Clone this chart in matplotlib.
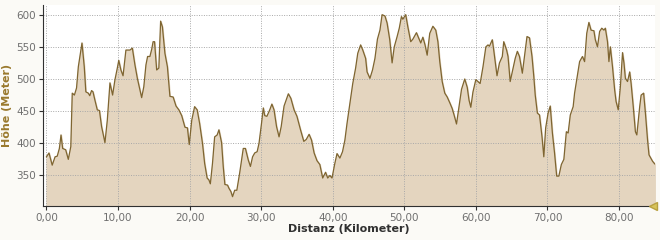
import matplotlib
matplotlib.use("Agg")
import matplotlib.pyplot as plt

# elevation profile
distanz_km = [
    0.0, 0.35, 0.8, 1.2, 1.5, 1.8, 2.03, 2.26, 2.68, 3.05, 3.4, 3.6, 3.9, 4.2, 4.45,
    4.96, 5.28, 5.5, 5.84, 6.05, 6.3, 6.5, 6.77, 7.1, 7.4, 7.7, 8.17, 8.5, 8.87, 9.24,
    9.57, 9.9, 10.1, 10.4, 10.7, 11.1, 11.66, 12.0, 12.36, 12.7, 12.96, 13.3, 13.6,
    13.9, 14.13, 14.45, 14.7, 14.9, 15.1, 15.4, 15.7, 15.95, 16.2, 16.55, 16.9,
    17.25, 17.7, 18.1, 18.5, 18.9, 19.35, 19.7, 19.95, 20.3, 20.7, 21.06, 21.4, 21.8,
    22.1, 22.45, 22.7, 22.9, 23.2, 23.5, 23.85, 24.1, 24.47, 24.7, 24.93, 25.3, 25.5,
    25.77, 26.0, 26.3, 26.6, 27.0, 27.5, 27.8, 28.2, 28.5, 28.8, 29.1, 29.44, 29.7,
    30.05, 30.3, 30.5, 30.8, 31.2, 31.5, 31.8, 32.15, 32.5, 32.8, 33.2, 33.8, 34.15,
    34.6, 35.0, 35.5, 35.96, 36.3, 36.7, 37.04, 37.4, 37.8, 38.2, 38.6, 39.0, 39.3,
    39.6, 39.9, 40.3, 40.6, 41.0, 41.37, 41.7, 42.0, 42.4, 42.8, 43.2, 43.5, 43.9,
    44.2, 44.6, 44.8, 45.2, 45.56, 45.9, 46.25, 46.6, 46.9, 47.3, 47.6, 47.97, 48.3,
    48.6, 49.0, 49.3, 49.6, 49.8, 50.2, 50.5, 50.9, 51.2, 51.7, 52.0, 52.3, 52.6,
    52.9, 53.2, 53.56, 54.0, 54.4, 54.7, 54.96, 55.3, 55.66, 56.0, 56.4, 56.7, 56.96,
    57.3, 57.65, 58.0, 58.45, 58.8, 59.05, 59.3, 59.6, 60.0, 60.3, 60.6, 61.0, 61.4,
    61.7, 61.9, 62.3, 62.5, 62.96, 63.3, 63.7, 63.9, 64.3, 64.5, 64.8, 65.2, 65.5,
    65.8, 66.1, 66.5, 66.8, 67.15, 67.5, 67.85, 68.1, 68.3, 68.6, 68.9, 69.25, 69.5,
    69.76, 70.1, 70.4, 70.7, 71.0, 71.3, 71.6, 71.95, 72.3, 72.65, 72.9, 73.2, 73.6,
    73.8, 74.1, 74.5, 74.9, 75.2, 75.5, 75.8, 76.1, 76.5, 76.7, 77.0, 77.3, 77.6,
    77.9, 78.1, 78.4, 78.6, 78.8, 79.1, 79.4, 79.6, 79.9, 80.2, 80.5, 80.7, 80.9,
    81.2, 81.5, 81.7, 82.0, 82.3, 82.5, 82.9, 83.1, 83.45, 83.7, 84.0, 84.2, 84.7, 85.0,
]
hoehe_m = [
    379, 385, 366, 379, 380, 392, 413, 392, 390, 375, 395, 478, 475, 486, 519,
    556, 519, 480, 478, 474, 482, 480, 467, 452, 451, 426, 401, 436, 494, 475,
    499, 517, 529, 514, 505, 545, 545, 548, 522, 501, 488, 471, 488,
    522, 535, 535, 546, 558, 558, 514, 517, 590, 581, 540, 519,
    473, 472, 458, 452, 443, 425, 424, 398, 436, 457, 452, 431, 400,
    369, 346, 343, 337, 369, 410, 413, 421, 401, 364, 336, 335, 330,
    325, 317, 327, 327, 354, 392, 392, 374, 364, 379, 385, 387, 400,
    431, 455, 443, 442, 452, 461, 452, 426, 410, 426, 458, 477, 470,
    452, 442, 421, 403, 406, 414, 405, 385, 373, 367, 346, 355, 346,
    350, 346, 369, 384, 377, 387, 405, 431, 462, 493, 517, 540, 553,
    545, 532, 511, 501, 514, 532, 562, 576, 600, 598, 587, 561, 525,
    550, 566, 579, 597, 593, 600, 581, 558, 562, 572, 564, 556, 565,
    553, 537, 571, 582, 576, 558, 527, 496, 478, 472, 462, 454, 444,
    430, 457, 484, 500, 487, 467, 456, 480, 499, 496, 493, 519, 550,
    553, 551, 561, 545, 505, 525, 535, 558, 545, 535, 496, 517, 532,
    543, 535, 509, 535, 566, 564, 535, 504, 475, 447, 444, 410, 379,
    424, 447, 458, 416, 385, 349, 349, 367, 375, 418, 416, 444, 457,
    478, 499, 527, 535, 527, 571, 588, 576, 575, 561, 550, 574, 579,
    576, 579, 558, 527, 550, 519, 483, 465, 452, 488, 541, 525, 501,
    496, 511, 493, 457, 418, 413, 457, 475, 478, 447, 405, 382, 372, 368,
]

x_ticks = [0, 10, 20, 30, 40, 50, 60, 70, 80]
x_ticklabels = ["0,00", "10,00", "20,00", "30,00", "40,00", "50,00", "60,00", "70,00", "80,00"]
y_ticks = [350, 400, 450, 500, 550, 600]


def plot_profile():
    fig = plt.figure(figsize=(6.6, 2.4), dpi=100, facecolor="#fbfaf6")
    ax = fig.add_axes([0.065, 0.143, 0.927, 0.836])
    ax.set_facecolor("white")

    y_bottom = 303
    ax.fill_between(distanz_km, hoehe_m, y_bottom, color="#e4d5bf", zorder=2)
    ax.plot(distanz_km, hoehe_m, color="#7e6531", lw=0.9, zorder=3)

    # little marker at the end of the x axis
    ax.plot([84.75], [y_bottom], marker="<", color="#d8c35a", markersize=5.5,
            markeredgecolor="#b8a040", clip_on=False, zorder=7)

    ax.set_xlim(-0.5, 85.0)
    ax.set_ylim(y_bottom, 615)
    ax.set_xticks(x_ticks)
    ax.set_xticklabels(x_ticklabels)
    ax.set_yticks(y_ticks)

    ax.grid(True, color="#a8a8a8", linestyle=(0, (1, 1.5)), linewidth=0.7, zorder=5)
    ax.set_axisbelow(False)

    for side in ["top", "right"]:
        ax.spines[side].set_visible(False)
    ax.spines["left"].set_color("#303030")
    ax.spines["bottom"].set_color("#303030")
    ax.spines["left"].set_zorder(6)
    ax.spines["bottom"].set_zorder(6)

    ax.tick_params(axis="both", labelsize=7.5, colors="#303030", length=3, width=0.8,
                   labelcolor="#6f6f6f", pad=2)

    ax.set_xlabel("Distanz (Kilometer)", fontsize=8, fontweight="bold", color="#303030",
                  labelpad=1)
    ax.set_ylabel("Höhe (Meter)", fontsize=8, fontweight="bold", color="#9a7a2e",
                  labelpad=3)

    fig.savefig("out.png", dpi=100, facecolor=fig.get_facecolor())


def main():
    plot_profile()


if __name__ == "__main__":
    main()
